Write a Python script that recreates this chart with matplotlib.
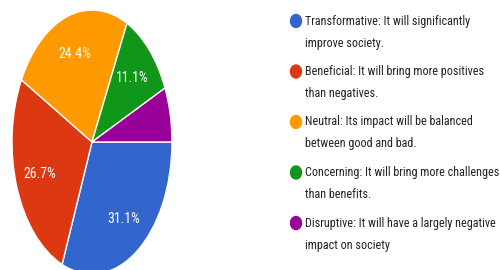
import matplotlib
matplotlib.use("Agg")
import matplotlib.pyplot as plt
from matplotlib.patches import Ellipse
from matplotlib import font_manager

# data
shares = [31.1, 26.7, 24.4, 11.1, 6.7]
colors = ["#3366cc", "#dc3912", "#ff9900", "#109618", "#990099"]
legend_lines = [
    ["Transformative: It will significantly", "improve society."],
    ["Beneficial: It will bring more positives", "than negatives."],
    ["Neutral: Its impact will be balanced", "between good and bad."],
    ["Concerning: It will bring more challenges", "than benefits."],
    ["Disruptive: It will have a largely negative", "impact on society"],
]

# pick a narrow face if there is one (the screenshot is squeezed sideways)
names = {f.name for f in font_manager.fontManager.ttflist}
narrow = [(f.name, f.stretch) for f in font_manager.fontManager.ttflist
          if "arrow" in f.name or "ondensed" in f.name or f.stretch in ("condensed", "semi-condensed")]
font = [n for n in ["Liberation Sans Narrow", "Roboto Condensed", "DejaVu Sans Condensed"] if n in names]
stretch = "normal"
if not font:
    if any(n == "DejaVu Sans" and s in ("condensed", "semi-condensed") for n, s in narrow):
        stretch = "condensed"
        font = ["DejaVu Sans"]
    else:
        font = ["Liberation Sans"]
font = font + ["DejaVu Sans"]

W, H = 500, 270
fig = plt.figure(figsize=(W / 100, H / 100), dpi=100)

# pie axes (stretched vertically, like the squeezed screenshot)
cx, cy, rx, ry = 92, 142, 80, 132
ax = fig.add_axes([(cx - rx) / W, 1 - (cy + ry) / H, 2 * rx / W, 2 * ry / H])
wedges, texts, autotexts = ax.pie(
    shares, colors=colors, startangle=0, counterclock=False,
    autopct=lambda p: f"{p:.1f}%" if p > 8 else "",
    pctdistance=0.7, wedgeprops=dict(edgecolor="white", linewidth=1),
    textprops=dict(color="white", fontsize=10, family=font, fontstretch=stretch),
    radius=1, frame=False)
ax.set_xlim(-1, 1)
ax.set_ylim(-1, 1)
ax.set_aspect("auto")
ax.axis("off")

# legend drawn in pixel coordinates
lg = fig.add_axes([0, 0, 1, 1])
lg.set_xlim(0, W)
lg.set_ylim(H, 0)
lg.axis("off")
y0, step, gap = 21, 50.5, 22
tx, max_w = 305, 194
items = []
for i, (lines, c) in enumerate(zip(legend_lines, colors)):
    y = y0 + i * step
    lg.add_patch(Ellipse((296, y), 11, 13, color=c))
    for j, t in enumerate(lines):
        items.append(lg.text(tx, y + j * gap, t, fontsize=11, family=font,
                             fontstretch=stretch, color="#222222",
                             va="center", ha="left"))

# shrink legend text so the longest line ends where the reference's does
r = fig.canvas.get_renderer()
widest = max(t.get_window_extent(r).width for t in items)
size = min(11, 11 * max_w / widest)
for t in items:
    t.set_fontsize(size)

fig.savefig("out.png", dpi=100)
